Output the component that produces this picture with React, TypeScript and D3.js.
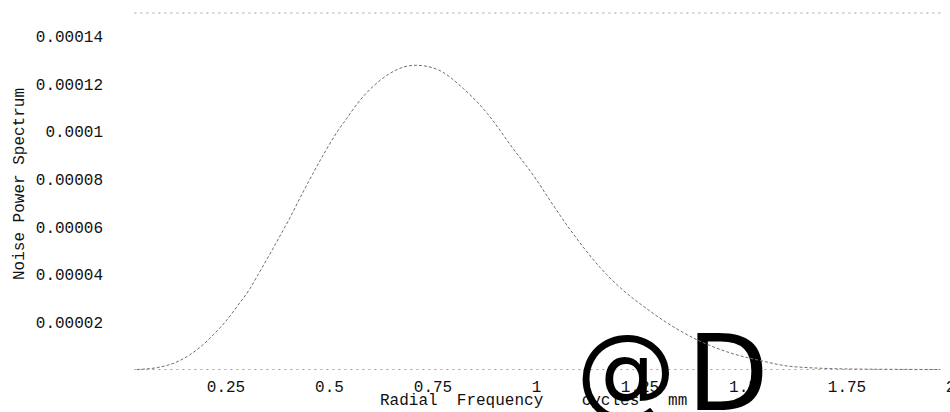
import React, {useEffect, useRef} from 'react';
import {select, scaleLinear, axisBottom, axisLeft, line, curveMonotoneX} from 'd3';

// radial frequency (cycles/mm) and noise power spectrum
const freq = [0.036, 0.085, 0.14, 0.188, 0.22, 0.254, 0.28, 0.309, 0.329, 0.365, 0.406, 0.442, 0.483, 0.519, 0.543, 0.575, 0.604, 0.64, 0.688, 0.71, 0.761, 0.824, 0.882, 0.944, 1.002, 1.029, 1.089, 1.155, 1.203, 1.268, 1.292, 1.389, 1.469, 1.541, 1.621, 1.766, 1.976];
const nps = [0, 0.08e-5, 0.38e-5, 0.93e-5, 1.45e-5, 2.1e-5, 2.7e-5, 3.4e-5, 4.0e-5, 5.1e-5, 6.4e-5, 7.62e-5, 8.93e-5, 9.98e-5, 10.57e-5, 11.33e-5, 11.87e-5, 12.38e-5, 12.76e-5, 12.8e-5, 12.63e-5, 11.83e-5, 10.78e-5, 9.31e-5, 7.96e-5, 7.24e-5, 5.73e-5, 4.29e-5, 3.45e-5, 2.55e-5, 2.25e-5, 1.25e-5, 0.7e-5, 0.38e-5, 0.12e-5, 0.02e-5, 0];

const xTicks = [0.25, 0.5, 0.75, 1, 1.25, 1.5, 1.75, 2];
const yTicks = [0.00002, 0.00004, 0.00006, 0.00008, 0.0001, 0.00012, 0.00014];
const xTitle = 'Radial  Frequency    cycles   mm';
const yTitle = 'Noise Power Spectrum';

const trim = (s: string) => s.replace(/0+$/, '').replace(/\.$/, '');
const mono = '"Liberation Mono", "Courier New", monospace';

function App() {
    const svgRef = useRef<SVGSVGElement>(null);
    useEffect(() => {
        const svg = select(svgRef.current);
        const xScale = scaleLinear().domain([0, 2]).range([122, 950]);
        const yScale = scaleLinear().domain([0, 0.00015]).range([369.5, 13]);

        const xaxis = axisBottom(xScale).tickValues(xTicks).tickSize(0).tickPadding(0)
            .tickFormat(d => trim((d as number).toFixed(2)));
        svg.select('.x-axis')
            .attr('transform', 'translate(0,381)')
            .call(xaxis as any);
        const yaxis = axisLeft(yScale).tickValues(yTicks).tickSize(0).tickPadding(0)
            .tickFormat(d => trim((d as number).toFixed(5)));
        svg.select('.y-axis')
            .attr('transform', 'translate(103,0)')
            .call(yaxis as any);
        svg.selectAll('.domain').remove();
        svg.selectAll('.tick text')
            .attr('fill', '#111')
            .style('font-family', mono)
            .style('font-size', '16px');

        // faint frame lines: top border and x axis
        svg.select('.frame').selectAll('line')
            .data([0.00015, 0])
            .join('line')
            .attr('x1', xScale(0.03)).attr('x2', xScale(1.98))
            .attr('y1', d => yScale(d)).attr('y2', d => yScale(d))
            .attr('stroke', '#a0a0a0')
            .attr('stroke-width', 1)
            .attr('stroke-dasharray', '2 4');

        const myLine = line<number>()
            .x((d, i) => xScale(freq[i]))
            .y(d => yScale(d))
            .curve(curveMonotoneX);
        svg.selectAll('.line')
            .data([nps])
            .join('path')
            .attr('class', 'line')
            .attr('d', d => myLine(d))
            .attr('fill', 'none')
            .attr('stroke', '#707070')
            .attr('stroke-width', 1)
            .attr('stroke-dasharray', '3 2');
    }, []);

    return (
        <svg ref={svgRef} width={950} height={412}
             style={{position: 'absolute', left: 0, top: 0, background: '#fff'}}>
            <g className='frame'></g>
            <g className='x-axis'></g>
            <g className='y-axis'></g>
            <text x={18} y={184} transform='rotate(-90,18,184)' textAnchor='middle' dy='0.35em'
                  style={{fontFamily: mono, fontSize: 16, whiteSpace: 'pre'}} fill='#111'>{yTitle}</text>
            <text x={380} y={405}
                  style={{fontFamily: mono, fontSize: 16, whiteSpace: 'pre'}} fill='#111'>{xTitle}</text>
            <text x={576} y={406} style={{fontFamily: '"DejaVu Sans", sans-serif', fontSize: 100}} fill='#000'>@</text>
            <text x={687} y={410} style={{fontFamily: '"DejaVu Sans", sans-serif', fontSize: 106}} fill='#000'>D</text>
        </svg>
    );
}

export default App;
